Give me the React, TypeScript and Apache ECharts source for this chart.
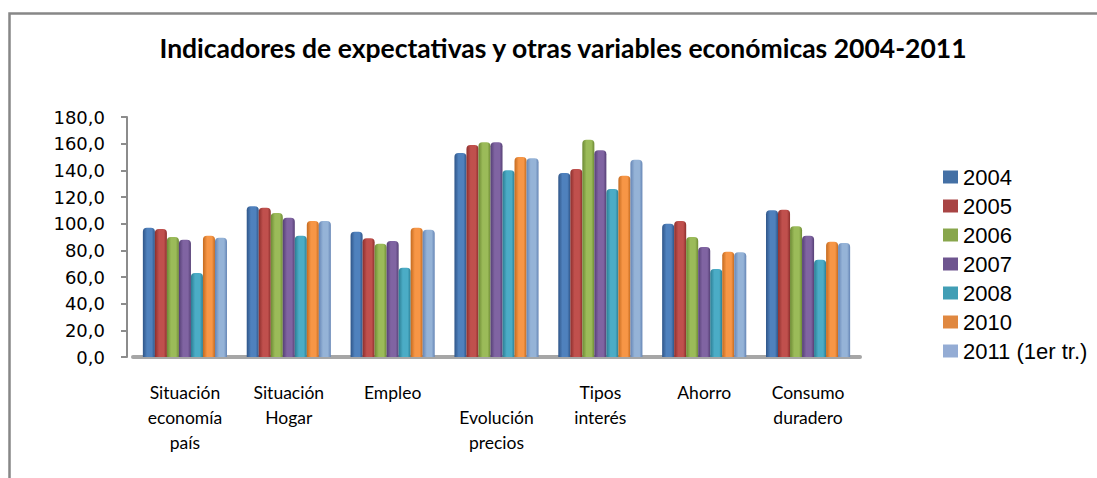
import React, { useEffect, useRef } from "react";
import * as echarts from "echarts";

const categories = [
  "Situación\neconomía\npaís",
  "Situación\nHogar",
  "Empleo",
  "\nEvolución\nprecios",
  "Tipos\ninterés",
  "Ahorro",
  "Consumo\nduradero",
];

const seriesNames = ["2004", "2005", "2006", "2007", "2008", "2010", "2011 (1er tr.)"];

const v2004 = [97, 113, 94, 153, 138, 100, 110];
const v2005 = [96, 112, 89, 159, 141, 102, 110.5];
const v2006 = [90, 108, 85, 161, 163, 90, 98];
const v2007 = [88, 104.5, 87, 161, 155, 82.5, 91];
const v2008 = [63, 91, 67, 140, 126, 66, 73];
const v2010 = [91, 102, 97, 150, 136, 79, 86.5];
const v2011 = [89.5, 102, 95.5, 149, 148, 78.5, 85.5];

const seriesValues = [v2004, v2005, v2006, v2007, v2008, v2010, v2011];

const yTicks = { min: 0, max: 180, interval: 20 };

const colors = ["#4F81BD", "#C0504D", "#9BBB59", "#8064A2", "#4BACC6", "#F79646", "#95B3D7"];
const darkColors = ["#2f5588", "#8c2e2c", "#6d8a34", "#553f75", "#2b7d93", "#c46a1f", "#6585b5"];
const legendColors = ["#4470a5", "#a84444", "#88a64c", "#6e558f", "#419eb5", "#e08840", "#94acd4"];

export default function App() {
  const ref = useRef<HTMLDivElement>(null);
  useEffect(() => {
    if (!ref.current) return;
    const chart = echarts.init(ref.current, undefined, { renderer: "svg" });
    const series = seriesValues.map((vals, i) => ({
      name: seriesNames[i],
      type: "bar",
      data: vals,
      barGap: "0%",
      barCategoryGap: "19%",
      itemStyle: {
        color: new echarts.graphic.LinearGradient(0, 0, 1, 0, [
          { offset: 0, color: darkColors[i] },
          { offset: 0.35, color: colors[i] },
          { offset: 0.75, color: colors[i] },
          { offset: 1, color: darkColors[i] },
        ]),
        borderRadius: [4, 4, 0, 0],
      },
    }));
    chart.setOption({
      animation: false,
      backgroundColor: "#ffffff",
      title: {
        text: "Indicadores de expectativas y otras variables económicas 2004-2011",
        left: 558,
        textAlign: "center",
        top: 29,
        textStyle: {
          fontFamily: "Lato, sans-serif",
          fontWeight: "bold",
          fontSize: 26.5,
          color: "#000000",
        },
      },
      legend: {
        orient: "vertical",
        left: 943,
        top: 166,
        padding: 0,
        itemWidth: 15,
        itemHeight: 13,
        itemGap: 7,
        icon: "rect",
        data: seriesNames.map((n, i) => ({ name: n, itemStyle: { color: legendColors[i] } })),
        textStyle: {
          fontFamily: "'Liberation Sans', Arial, sans-serif",
          fontSize: 22,
          lineHeight: 22,
          color: "#000000",
        },
      },
      grid: { left: 133, right: 237, top: 117, bottom: 121, containLabel: false },
      xAxis: {
        type: "category",
        data: categories,
        axisLine: { lineStyle: { color: "#a6a6a6", width: 4 } },
        axisTick: { show: false },
        axisLabel: {
          interval: 0,
          margin: 23,
          fontFamily: "Lato, sans-serif",
          fontSize: 17.5,
          lineHeight: 25,
          color: "#000000",
          align: "center",
          verticalAlign: "top",
        },
      },
      yAxis: {
        type: "value",
        min: yTicks.min,
        max: yTicks.max,
        interval: yTicks.interval,
        offset: 6,
        axisLine: { show: true, lineStyle: { color: "#8c8c8c", width: 2 } },
        axisTick: { show: true, length: 6, lineStyle: { color: "#8c8c8c", width: 2 } },
        splitLine: { show: false },
        axisLabel: {
          margin: 22,
          fontFamily: "'DejaVu Sans', sans-serif",
          fontSize: 18,
          color: "#000000",
          formatter: (v: number) => v.toFixed(1).replace(".", ","),
        },
      },
      graphic: [
        {
          type: "polyline",
          shape: { points: [[9.5, 600], [9.5, 13.5], [1300, 13.5]] },
          style: { fill: "none", stroke: "#878787", lineWidth: 2.5 },
          silent: true,
        },
      ],
      series,
    });
    return () => chart.dispose();
  }, []);
  return (
    <div
      ref={ref}
      style={{ position: "absolute", left: 0, top: 0, width: 1097, height: 478 }}
    />
  );
}
